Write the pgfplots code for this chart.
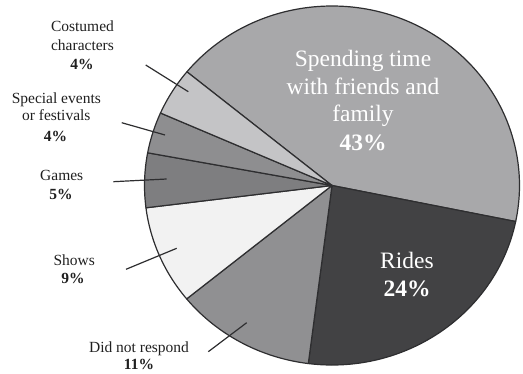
\documentclass[border=0pt]{standalone}
\usepackage{pgfplots}
\pgfplotsset{compat=1.18}
\usepackage{fontspec}
\setmainfont{Liberation Serif}
\definecolor{cSpend}{HTML}{A8A8AA}
\definecolor{cRides}{HTML}{424244}
\definecolor{cDNR}{HTML}{909092}
\definecolor{cShows}{HTML}{F2F2F2}
\definecolor{cGames}{HTML}{7E7E80}
\definecolor{cSpecial}{HTML}{8E8E90}
\definecolor{cCost}{HTML}{C4C4C6}
\definecolor{cEdge}{HTML}{2E2E30}
\definecolor{cText}{HTML}{202020}
% slice: #1 start angle, #2 share in percent, #3 fill colour
\newcommand\slice[3]{%
  \filldraw[fill=#3, draw=cEdge, line width=1.2pt, line join=round]
    (axis cs:332,187.5) -- (axis cs:{332+187.5*cos(#1)},{187.5+179.5*sin(#1)})
    arc[start angle=#1, delta angle={-3.6*#2}, x radius=187.5pt, y radius=179.5pt] -- cycle;}
\newcommand\bigfont{\fontsize{23.5}{27.7}\selectfont}
\newcommand\smallfont{\fontsize{15.5}{18}\selectfont}
\begin{document}
\begin{tikzpicture}
\useasboundingbox (0,0) rectangle (523pt,373pt);
\begin{axis}[
  x=1pt, y=1pt,
  xmin=0, xmax=523, ymin=0, ymax=373,
  hide axis, clip=false, anchor=south west, at={(0,0)},
]
% shares in percent (clockwise): Spending time, Rides, Did not respond, Shows, Games, Special events, Costumed
\slice{140.7}{42.3}{cSpend}
\slice{-11.58}{23.8}{cRides}
\slice{-97.26}{12.1}{cDNR}
\slice{-140.82}{8.9}{cShows}
\slice{-172.86}{4.9}{cGames}
\slice{-190.5}{3.7}{cSpecial}
\slice{-203.82}{4.3}{cCost}
% big labels
\node[anchor=base, text=white, font=\bigfont] at (axis cs:363,{373-66}) {Spending time};
\node[anchor=base, text=white, font=\bigfont] at (axis cs:363,{373-94}) {with friends and};
\node[anchor=base, text=white, font=\bigfont] at (axis cs:363,{373-121.5}) {family};
\node[anchor=base, text=white, font=\bigfont\bfseries] at (axis cs:363,{373-150.5}) {43\%};
\node[anchor=base, text=white, font=\bigfont] at (axis cs:407,{373-268}) {Rides};
\node[anchor=base, text=white, font=\bigfont\bfseries] at (axis cs:407,{373-296.5}) {24\%};
% leader lines
\draw[cEdge, line width=1.2pt] (axis cs:145.7,{373-65}) -- (axis cs:188.3,{373-91.7});
\draw[cEdge, line width=1.2pt] (axis cs:121.7,{373-122.7}) -- (axis cs:165,{373-135});
\draw[cEdge, line width=1.2pt] (axis cs:113.3,{373-181.7}) -- (axis cs:166.7,{373-179});
\draw[cEdge, line width=1.2pt] (axis cs:126,{373-269.3}) -- (axis cs:176.7,{373-248.3});
\draw[cEdge, line width=1.2pt] (axis cs:208.3,{373-351.7}) -- (axis cs:246.7,{373-322.7});
% small labels
\node[anchor=base, text=cText, font=\smallfont] at (axis cs:82.5,{373-31.5}) {Costumed};
\node[anchor=base, text=cText, font=\smallfont] at (axis cs:82.5,{373-50}) {characters};
\node[anchor=base, text=cText, font=\smallfont\bfseries] at (axis cs:82,{373-69}) {4\%};
\node[anchor=base, text=cText, font=\smallfont] at (axis cs:56.3,{373-103}) {Special events};
\node[anchor=base, text=cText, font=\smallfont] at (axis cs:56.3,{373-120.5}) {or festivals};
\node[anchor=base, text=cText, font=\smallfont\bfseries] at (axis cs:55.5,{373-141}) {4\%};
\node[anchor=base, text=cText, font=\smallfont] at (axis cs:61.7,{373-180}) {Games};
\node[anchor=base, text=cText, font=\smallfont\bfseries] at (axis cs:61,{373-199}) {5\%};
\node[anchor=base, text=cText, font=\smallfont] at (axis cs:74.2,{373-265}) {Shows};
\node[anchor=base, text=cText, font=\smallfont\bfseries] at (axis cs:73,{373-283}) {9\%};
\node[anchor=base, text=cText, font=\smallfont] at (axis cs:139,{373-352}) {Did not respond};
\node[anchor=base, text=cText, font=\smallfont\bfseries] at (axis cs:139,{373-369}) {11\%};
\end{axis}
\end{tikzpicture}
\end{document}
